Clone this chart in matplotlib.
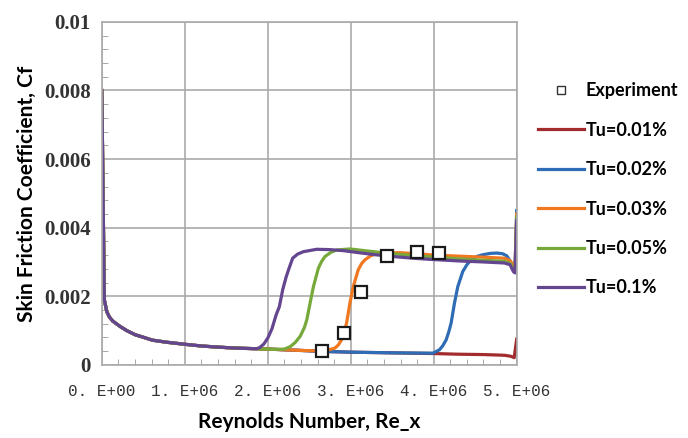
import numpy as np
import matplotlib
matplotlib.use('Agg')
import matplotlib.pyplot as plt
from matplotlib.lines import Line2D
from matplotlib.ticker import MultipleLocator

# laminar part shared by every Tu curve (Re in 1e6)
re_lam = [0.0, 0.03, 0.06, 0.09, 0.13, 0.22, 0.30, 0.40, 0.48, 0.61, 0.78, 1.0, 1.2, 1.38, 1.6, 1.86]
cf_lam = [0.0080, 0.0019, 0.00155, 0.00140, 0.00128, 0.00112, 0.00100, 0.00088, 0.00082, 0.00072,
          0.00066, 0.00060, 0.00055, 0.00052, 0.00049, 0.00047]

re_red = [2.0, 2.2, 2.4, 2.7, 3.0, 3.5, 4.0, 4.3, 4.6, 4.85, 4.93, 4.97, 5.0]
cf_red = [0.00046, 0.00044, 0.00042, 0.00039, 0.00037, 0.00035, 0.00033, 0.00031, 0.00030,
          0.00028, 0.00025, 0.00021, 0.00075]

re_blue = [2.0, 2.2, 2.4, 2.7, 3.0, 3.5, 3.99, 4.07, 4.11, 4.15, 4.18, 4.21, 4.25, 4.29, 4.35,
           4.40, 4.45, 4.52, 4.59, 4.68, 4.76, 4.83, 4.88, 4.94, 4.98, 5.0]
cf_blue = [0.00046, 0.00044, 0.00042, 0.00039, 0.00037, 0.00035, 0.00034, 0.00044, 0.00056,
           0.00073, 0.00095, 0.00122, 0.0018, 0.00228, 0.00272, 0.00292, 0.00306, 0.00316,
           0.00321, 0.00325, 0.00326, 0.00324, 0.00318, 0.00296, 0.00282, 0.0045]

re_orange = [2.0, 2.2, 2.4, 2.6, 2.71, 2.81, 2.85, 2.89, 2.92, 2.95, 2.99, 3.03, 3.09, 3.13, 3.17,
             3.24, 3.31, 3.43, 3.6, 3.8, 4.0, 4.3, 4.6, 4.85, 4.92, 4.96, 4.98, 5.0]
cf_orange = [0.00046, 0.00044, 0.00042, 0.00041, 0.00042, 0.00049, 0.00058, 0.00073, 0.00095,
             0.00122, 0.0018, 0.00228, 0.00277, 0.00295, 0.00306, 0.00318, 0.00324, 0.00327,
             0.00327, 0.00324, 0.00320, 0.00317, 0.00314, 0.00311, 0.00304, 0.00288, 0.00284, 0.0044]

re_green = [2.0, 2.1, 2.2, 2.27, 2.33, 2.39, 2.44, 2.47, 2.51, 2.55, 2.61, 2.65, 2.69, 2.76, 2.83,
            2.99, 3.2, 3.5, 4.0, 4.5, 4.85, 4.92, 4.96, 4.98, 5.0]
cf_green = [0.00046, 0.00045, 0.00046, 0.00053, 0.00065, 0.00083, 0.00108, 0.00131, 0.0018,
            0.00228, 0.00282, 0.00302, 0.00316, 0.00328, 0.00335, 0.00338, 0.00332, 0.00324,
            0.00314, 0.00306, 0.00302, 0.00296, 0.00278, 0.00272, 0.0043]

re_purple = [1.90, 1.95, 2.0, 2.05, 2.10, 2.14, 2.18, 2.22, 2.25, 2.30, 2.36, 2.43, 2.59, 2.75,
             2.91, 3.1, 3.3, 3.5, 3.8, 4.0, 4.3, 4.6, 4.85, 4.92, 4.96, 4.98, 5.0]
cf_purple = [0.00050, 0.00060, 0.00078, 0.00105, 0.00145, 0.0017, 0.00219, 0.00255, 0.00277,
             0.00311, 0.00323, 0.0033, 0.00337, 0.00336, 0.00333, 0.00327, 0.00321, 0.00316,
             0.00310, 0.00307, 0.00303, 0.00300, 0.00297, 0.00292, 0.00272, 0.00268, 0.0042]

re_exp = [2.65, 2.92, 3.12, 3.44, 3.80, 4.06]
cf_exp = [0.00041, 0.00094, 0.00211, 0.00316, 0.00330, 0.00326]

labels = ['Tu=0.01%', 'Tu=0.02%', 'Tu=0.03%', 'Tu=0.05%', 'Tu=0.1%']
colors = ['#A22B2E', '#2E6CB5', '#F07820', '#77A93A', '#64458F']
x_ticklabels = ['0. E+00', '1. E+06', '2. E+06', '3. E+06', '4. E+06', '5. E+06']
y_ticklabels = ['0', '0.002', '0.004', '0.006', '0.008', '0.01']

series = [(re_red, cf_red), (re_blue, cf_blue), (re_orange, cf_orange),
          (re_green, cf_green), (re_purple, cf_purple)]

fig = plt.figure(figsize=(6.88, 4.38), dpi=100)
ax = fig.add_axes([0.148, 0.167, 0.603, 0.783])

handles = []
for (rx, cy), col, lab in zip(series, colors, labels):
    xs = (np.array(re_lam + rx)) * 1e6
    ys = np.array(cf_lam + cy)
    ln, = ax.plot(xs, ys, color=col, lw=2.3, solid_joinstyle='round', label=lab)
    handles.append(ln)

ax.plot(np.array(re_exp) * 1e6, cf_exp, ls='none', marker='s', ms=9, mfc='white',
        mec='#1a1a1a', mew=1.6, zorder=5)

ax.set_xlim(0, 5e6)
ax.set_ylim(0, 0.01)
ax.set_xticks(np.arange(0, 5.01e6, 1e6))
ax.set_xticklabels(x_ticklabels, family='Liberation Mono', fontsize=11.5, color='#333333')
ax.set_yticks(np.arange(0, 0.0101, 0.002))
ax.set_yticklabels(y_ticklabels, family='Liberation Serif', fontweight='bold', fontsize=15,
                   color='#333333')
ax.xaxis.set_minor_locator(MultipleLocator(2e5))
ax.yaxis.set_minor_locator(MultipleLocator(0.0004))
ax.tick_params(which='major', length=0)
ax.tick_params(axis='x', which='major', pad=14)
ax.tick_params(axis='y', which='major', pad=8)
ax.tick_params(which='minor', direction='in', length=4, color='#999999')
ax.grid(True, which='major', color='#aaaaaa', lw=1.2)
ax.set_axisbelow(True)
for sp in ax.spines.values():
    sp.set_color('#aaaaaa')
    sp.set_linewidth(1.2)

ax.set_xlabel('Reynolds Number, Re_x', family='Lato', fontweight='bold', fontsize=15,
              labelpad=9)
ax.set_ylabel('Skin Friction Coefficient, Cf', family='Lato', fontweight='bold', fontsize=15,
              labelpad=5)

exp_handle = Line2D([], [], ls='none', marker='s', ms=6, mfc='white', mec='#333333', mew=1.0)
leg = fig.legend([exp_handle] + handles, ['Experiment'] + labels, loc='upper left',
                 bbox_to_anchor=(0.758, 0.849), frameon=False, handlelength=2.55,
                 handletextpad=0.1, labelspacing=1.24,
                 prop={'family': 'Lato', 'weight': 'bold', 'size': 13})

fig.savefig('out.png', dpi=100)
